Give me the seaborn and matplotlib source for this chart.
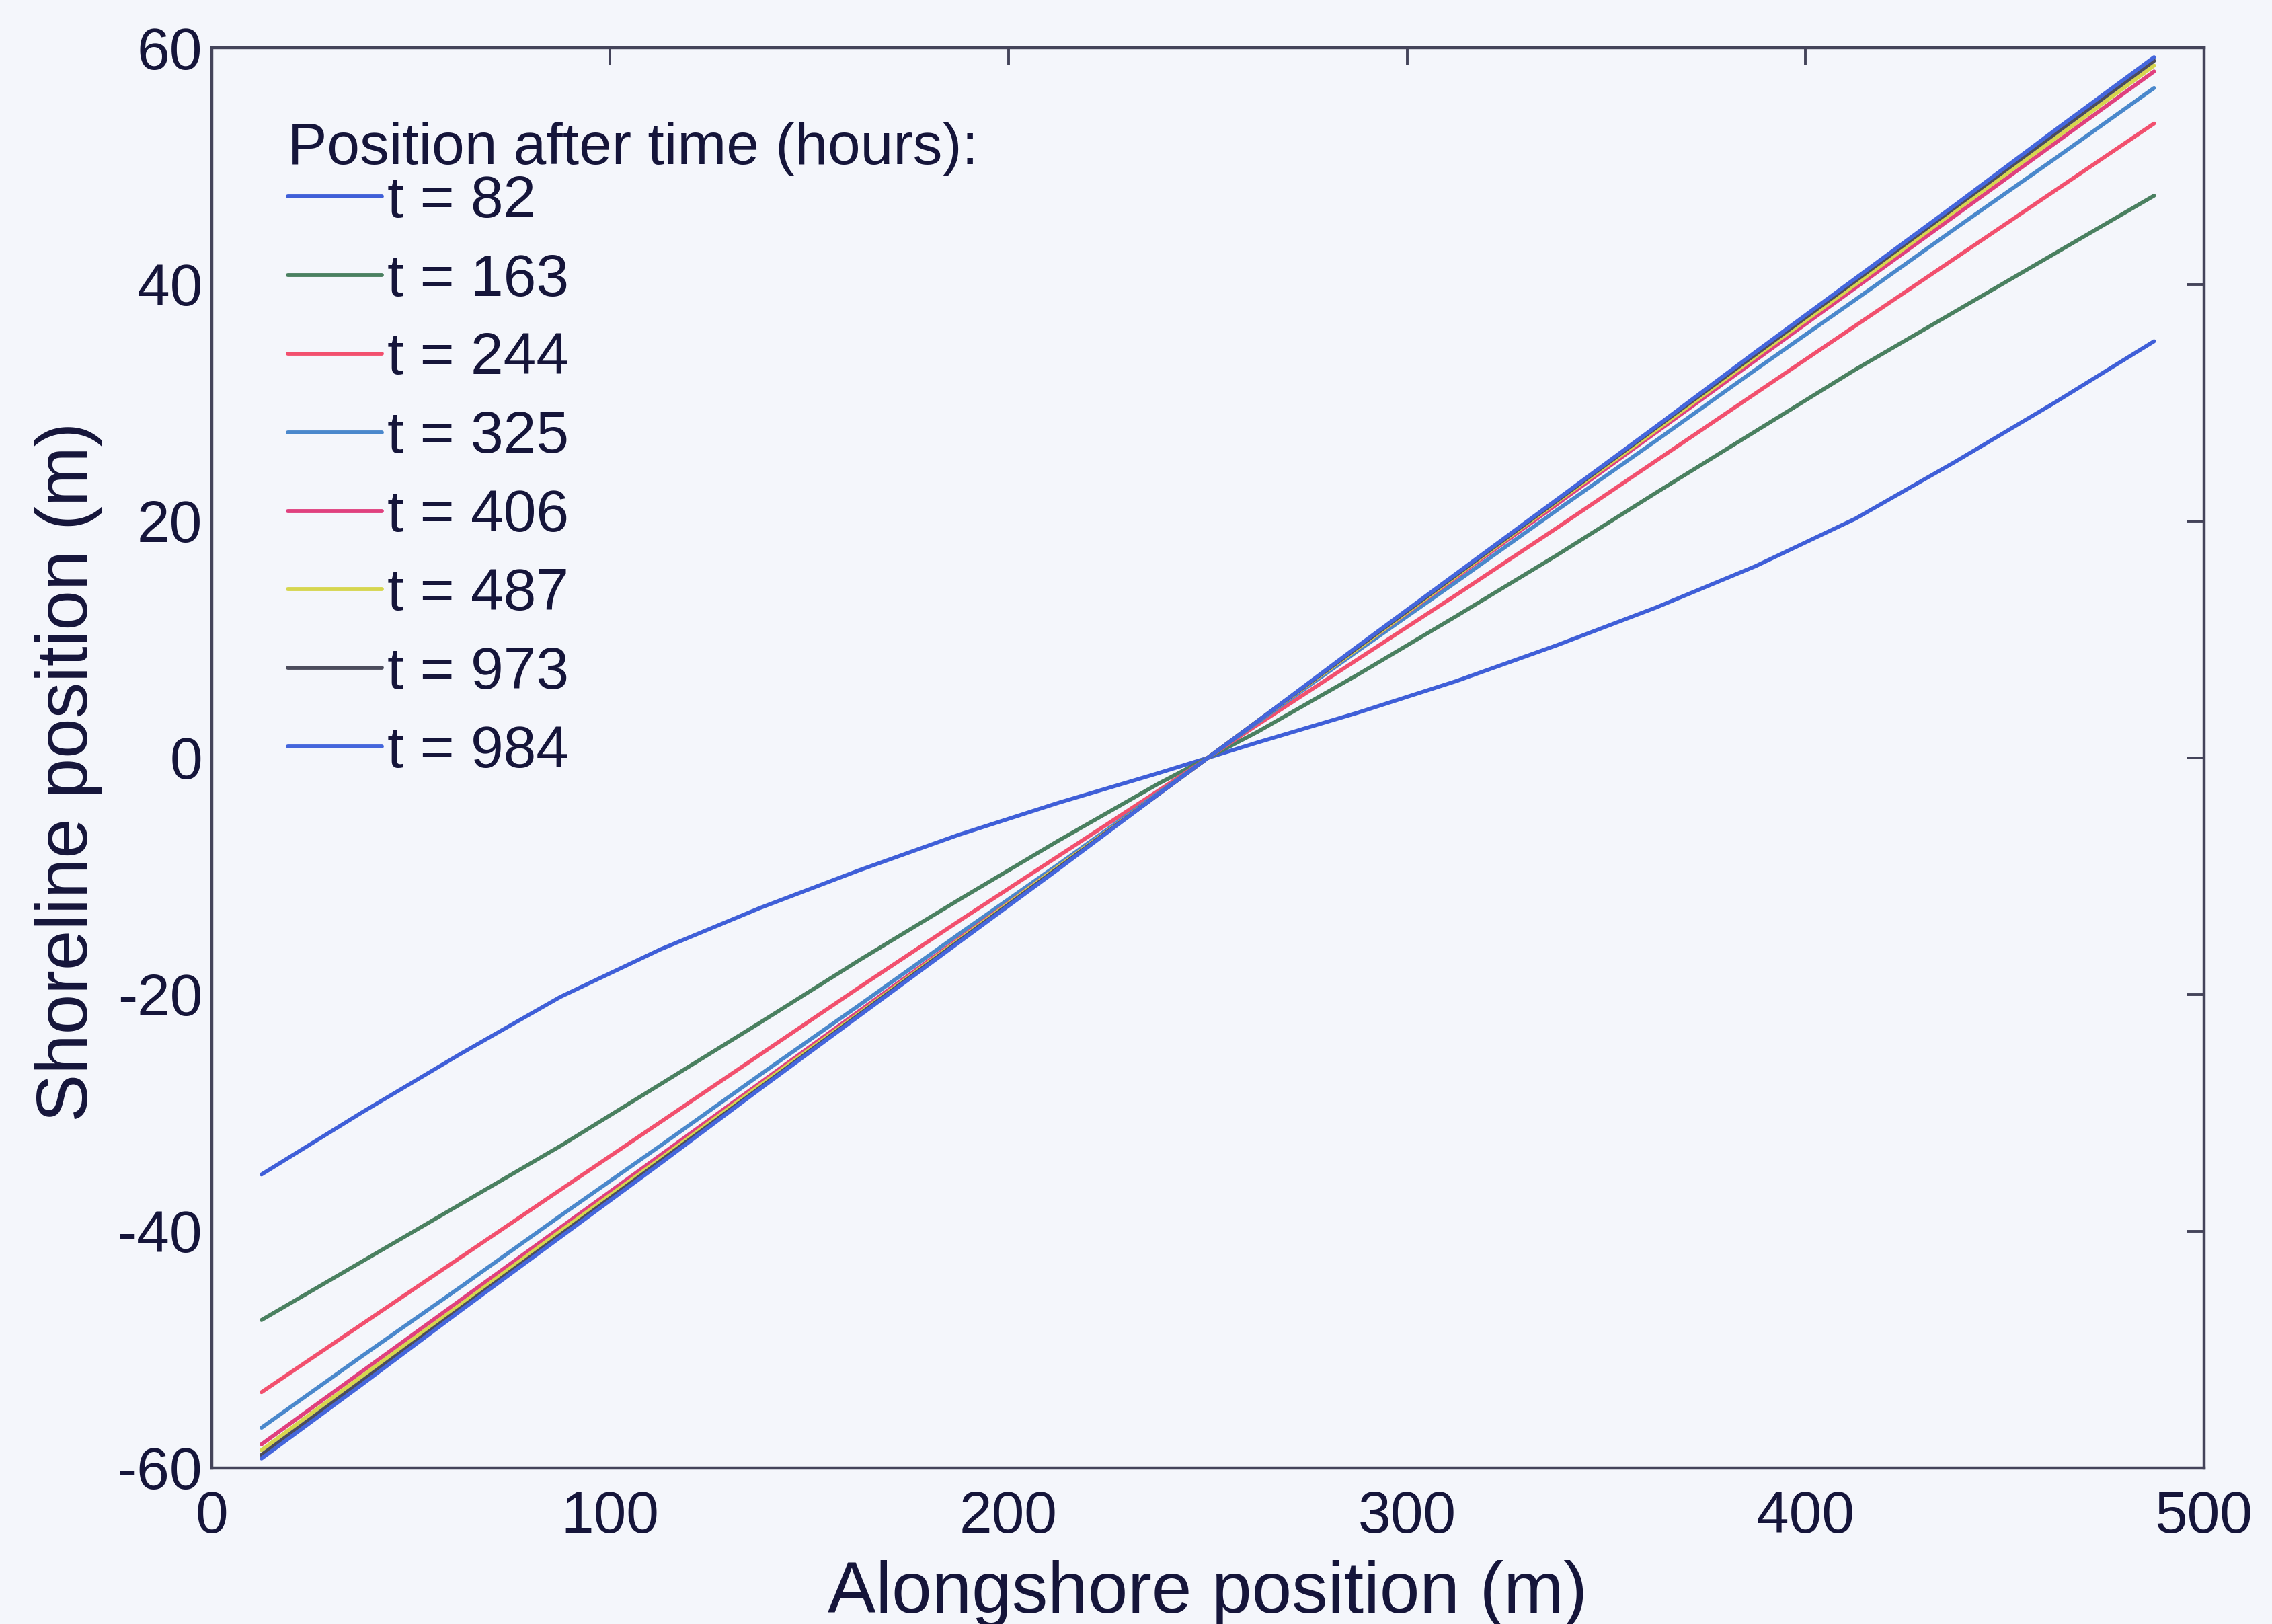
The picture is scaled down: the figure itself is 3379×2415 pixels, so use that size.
import numpy as np
import pandas as pd
import matplotlib
matplotlib.use("Agg")
import matplotlib.pyplot as plt
import seaborn as sns

# ---------------- data ----------------
x_pos = [12.5, 37.5, 62.5, 87.5, 112.5, 137.5, 162.5, 187.5, 212.5, 237.5,
         262.5, 287.5, 312.5, 337.5, 362.5, 387.5, 412.5, 437.5, 462.5, 487.5]

labels = ["t = 82", "t = 163", "t = 244", "t = 325",
          "t = 406", "t = 487", "t = 973", "t = 984"]

y_t82 = [-35.2, -30.0, -25.0, -20.2, -16.2, -12.7, -9.5, -6.5, -3.8, -1.3,
         1.3, 3.8, 6.5, 9.5, 12.7, 16.2, 20.2, 25.0, 30.0, 35.2]
y_t163 = [-47.5, -42.6, -37.7, -32.8, -27.6, -22.4, -17.1, -12.0, -7.0, -2.2,
          2.2, 7.0, 12.0, 17.1, 22.4, 27.6, 32.8, 37.7, 42.6, 47.5]
y_t244 = [-53.6, -47.9, -42.2, -36.5, -30.8, -25.1, -19.4, -13.8, -8.3, -2.8,
          2.8, 8.3, 13.8, 19.4, 25.1, 30.8, 36.5, 42.2, 47.9, 53.6]
y_t325 = [-56.6, -50.6, -44.7, -38.7, -32.8, -26.8, -20.9, -14.9, -9.0, -3.0,
          3.0, 9.0, 14.9, 20.9, 26.8, 32.8, 38.7, 44.7, 50.6, 56.6]
y_t406 = [-58.0, -51.9, -45.8, -39.7, -33.6, -27.5, -21.4, -15.3, -9.2, -3.1,
          3.1, 9.2, 15.3, 21.4, 27.5, 33.6, 39.7, 45.8, 51.9, 58.0]
y_t487 = [-58.5, -52.3, -46.2, -40.0, -33.9, -27.7, -21.6, -15.4, -9.2, -3.1,
          3.1, 9.2, 15.4, 21.6, 27.7, 33.9, 40.0, 46.2, 52.3, 58.5]
y_t973 = [-58.9, -52.7, -46.5, -40.3, -34.1, -27.9, -21.7, -15.5, -9.3, -3.1,
          3.1, 9.3, 15.5, 21.7, 27.9, 34.1, 40.3, 46.5, 52.7, 58.9]
y_t984 = [-59.2, -53.0, -46.7, -40.5, -34.3, -28.0, -21.8, -15.6, -9.4, -3.1,
          3.1, 9.4, 15.6, 21.8, 28.0, 34.3, 40.5, 46.7, 53.0, 59.2]

series = [y_t82, y_t163, y_t244, y_t325, y_t406, y_t487, y_t973, y_t984]
colors = ["#3f5fd8", "#4a8060", "#f2506e", "#4a88cc",
          "#e0407e", "#d6d64e", "#4c4c5c", "#4466dc"]

x_ticks = [0, 100, 200, 300, 400, 500]
y_ticks = [-60, -40, -20, 0, 20, 40, 60]

# ---------------- build table ----------------
rows = []
for lab, ys in zip(labels, series):
    for xv, yv in zip(x_pos, ys):
        rows.append({"x": xv, "y": yv, "series": lab})
df = pd.DataFrame(rows)

# ---------------- style ----------------
sns.set_theme(style="white")
TXT = "#15153a"
AX = "#44445a"
BG = "#f4f6fb"
plt.rcParams["font.family"] = ["Liberation Sans", "DejaVu Sans"]
plt.rcParams["text.color"] = TXT
plt.rcParams["axes.labelcolor"] = TXT
plt.rcParams["xtick.color"] = AX
plt.rcParams["ytick.color"] = AX
plt.rcParams["xtick.labelcolor"] = TXT
plt.rcParams["ytick.labelcolor"] = TXT

fig = plt.figure(figsize=(33.79, 24.15), dpi=100, facecolor=BG)
ax = fig.add_axes([0.0932, 0.0961, 0.970 - 0.0932, 0.9706 - 0.0961])
ax.set_facecolor(BG)

sns.lineplot(data=df, x="x", y="y", hue="series", hue_order=labels,
             palette=dict(zip(labels, colors)), estimator=None, sort=False,
             linewidth=4.2, ax=ax)

ax.set_xlim(0, 500)
ax.set_ylim(-60, 60)
ax.set_xticks(x_ticks)
ax.set_yticks(y_ticks)
ax.set_xticklabels([str(v) for v in x_ticks])
ax.set_yticklabels([str(v) for v in y_ticks])

for sp in ax.spines.values():
    sp.set_visible(True)
    sp.set_color(AX)
    sp.set_linewidth(3.2)

ax.tick_params(axis="both", which="major", direction="in", length=18, width=2.8,
               top=True, right=True, labelsize=63)
ax.tick_params(axis="x", pad=24)
ax.tick_params(axis="y", pad=10)

ax.set_xlabel("Alongshore position (m)", fontsize=77, color=TXT)
ax.set_ylabel("Shoreline position (m)", fontsize=77, color=TXT)
ax.xaxis.set_label_coords(0.5, -0.065)
ax.yaxis.set_label_coords(-0.055, 0.49)

handles, labs = ax.get_legend_handles_labels()
leg = ax.legend(handles, labs, title="Position after time (hours):",
                frameon=False, loc="upper left", bbox_to_anchor=(0.038, 0.948),
                borderpad=0, handlelength=1.6, handletextpad=0.1,
                labelspacing=0.41, alignment="left", fontsize=63,
                title_fontsize=63, borderaxespad=0)
leg._legend_box.sep = -1.5
for line in leg.get_lines():
    line.set_linewidth(4.2)
for t in leg.get_texts():
    t.set_color(TXT)
leg.get_title().set_color(TXT)

fig.savefig("out.png", dpi=100, facecolor=BG)
